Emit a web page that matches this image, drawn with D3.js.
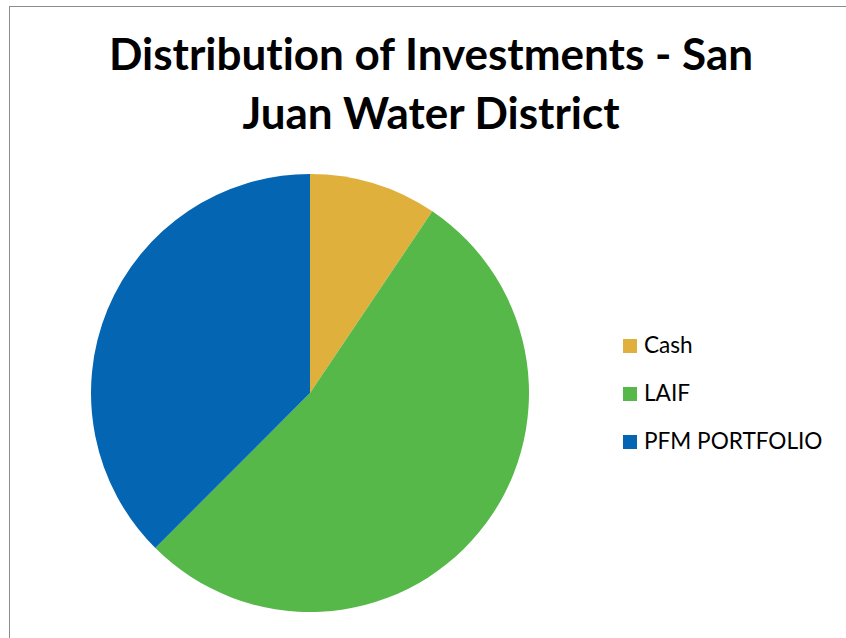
<!DOCTYPE html>
<html><head><meta charset="utf-8">
<script src="https://cdn.jsdelivr.net/npm/d3@7"></script>
<style>html,body{margin:0;padding:0;background:#fff;}svg{display:block;} text{font-variant-ligatures:none;font-feature-settings:"liga" 0;}</style>
</head><body>
<script>
const categories = ["Cash", "LAIF", "PFM PORTFOLIO"];
const values = [9.43, 53.05, 37.52];
const colors = ["#DFB13C", "#56B849", "#0466B2"];
const titleLines = ["Distribution of Investments - San", "Juan Water District"];

const W = 846, H = 638;
const svg = d3.select("body").append("svg").attr("width", W).attr("height", H);
svg.append("rect").attr("x", 0).attr("y", 0).attr("width", W).attr("height", H).attr("fill", "#fff");
svg.append("rect").attr("x", 9.5).attr("y", 6.5).attr("width", 1000).attr("height", 1000)
  .attr("fill", "none").attr("stroke", "#8c8c8c").attr("stroke-width", 1);

const title = svg.append("g").attr("font-family", "Lato, 'Open Sans', sans-serif")
  .attr("font-weight", "bold").attr("font-size", 44).attr("fill", "#000").attr("text-anchor", "middle");
title.selectAll("text").data(titleLines).join("text")
  .attr("x", 431).attr("y", (d, i) => 70 + i * 59).text(d => d);

const cx = 310, cy = 393, r = 219;
const pie = d3.pie().sort(null).value(d => d.v);
const arc = d3.arc().innerRadius(0).outerRadius(r);
const data = categories.map((c, i) => ({c, v: values[i], color: colors[i]}));
svg.append("g").attr("transform", `translate(${cx},${cy})`)
  .selectAll("path").data(pie(data)).join("path")
  .attr("d", arc).attr("fill", d => d.data.color);

const legend = svg.append("g").attr("transform", "translate(623,339)");
const rows = legend.selectAll("g").data(data).join("g")
  .attr("transform", (d, i) => `translate(0,${i * 48})`);
rows.append("rect").attr("width", 14).attr("height", 14).attr("fill", d => d.color);
rows.append("text").attr("x", 21).attr("y", 14)
  .attr("font-family", "Lato, 'Open Sans', sans-serif").attr("font-size", 22.6).attr("fill", "#000")
  .text(d => d.c);
</script>
</body></html>
